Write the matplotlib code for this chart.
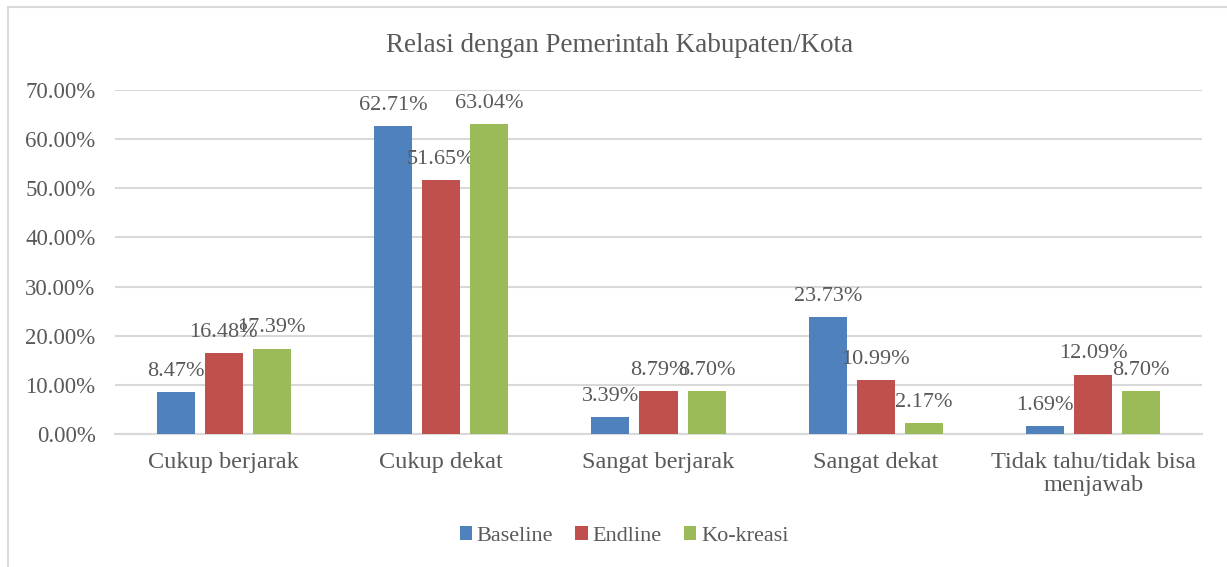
import numpy as np
import matplotlib as mpl
mpl.use("agg")
import matplotlib.pyplot as plt
from matplotlib.patches import Rectangle

categories = ["Cukup berjarak", "Cukup dekat", "Sangat berjarak", "Sangat dekat",
              "Tidak tahu/tidak bisa\nmenjawab"]
baseline = [8.47, 62.71, 3.39, 23.73, 1.69]
endline = [16.48, 51.65, 8.79, 10.99, 12.09]
kokreasi = [17.39, 63.04, 8.70, 2.17, 8.70]
series_names = ["Baseline", "Endline", "Ko-kreasi"]
colors = ["#4F81BD", "#C0504D", "#9BBB59"]
yticks = [0, 10, 20, 30, 40, 50, 60, 70]

plt.rcParams["font.family"] = ["Liberation Serif", "DejaVu Serif"]
txtc = "#595959"

fig = plt.figure(figsize=(12.27, 5.67), dpi=100)
ax = fig.add_axes([115/1227, 1-434/567, 1087/1227, 344/567])

# chart border
fig.patches.append(Rectangle((8/1227, -0.01), 1.02, 1-7/567+0.01, transform=fig.transFigure,
                             fill=False, edgecolor="#D9D9D9", linewidth=1.5))

x = np.arange(len(categories))
w = 0.175
step = 0.221
for i, (vals, name, c) in enumerate(zip([baseline, endline, kokreasi], series_names, colors)):
    pos = x + (i-1)*step
    ax.bar(pos, vals, width=w, color=c, label=name, zorder=3)
    for p, v in zip(pos, vals):
        ax.annotate("%.2f%%" % v, (p, v), xytext=(0, 8), textcoords="offset points",
                    ha="center", va="bottom", fontsize=16, color=txtc)

ax.set_xlim(-0.5, len(categories)-0.5)
ax.set_ylim(0, 70)
ax.set_yticks(yticks)
ax.set_yticklabels(["%.2f%%" % t for t in yticks], fontsize=16.5, color=txtc)
ax.set_xticks(x)
ax.set_xticklabels(categories, fontsize=17.5, color=txtc, linespacing=1.15)
ax.tick_params(axis="both", length=0)
ax.tick_params(axis="y", pad=14)
ax.tick_params(axis="x", pad=13)
ax.grid(axis="y", color="#D9D9D9", linewidth=1.5, zorder=0)
for s in ["top", "right", "left"]:
    ax.spines[s].set_visible(False)
ax.spines["bottom"].set_color("#D9D9D9")
ax.spines["bottom"].set_linewidth(1.5)

fig.text(620/1227, 1-45/567, "Relasi dengan Pemerintah Kabupaten/Kota", ha="center",
         va="center", fontsize=19.5, color=txtc)

fig.legend(loc="center", bbox_to_anchor=(624/1227, 1-536/567), ncol=3, frameon=False,
           fontsize=16, handlelength=0.55, handleheight=0.55, handletextpad=0.22,
           columnspacing=1.0, labelcolor=txtc)

fig.savefig("out.png", dpi=100)
